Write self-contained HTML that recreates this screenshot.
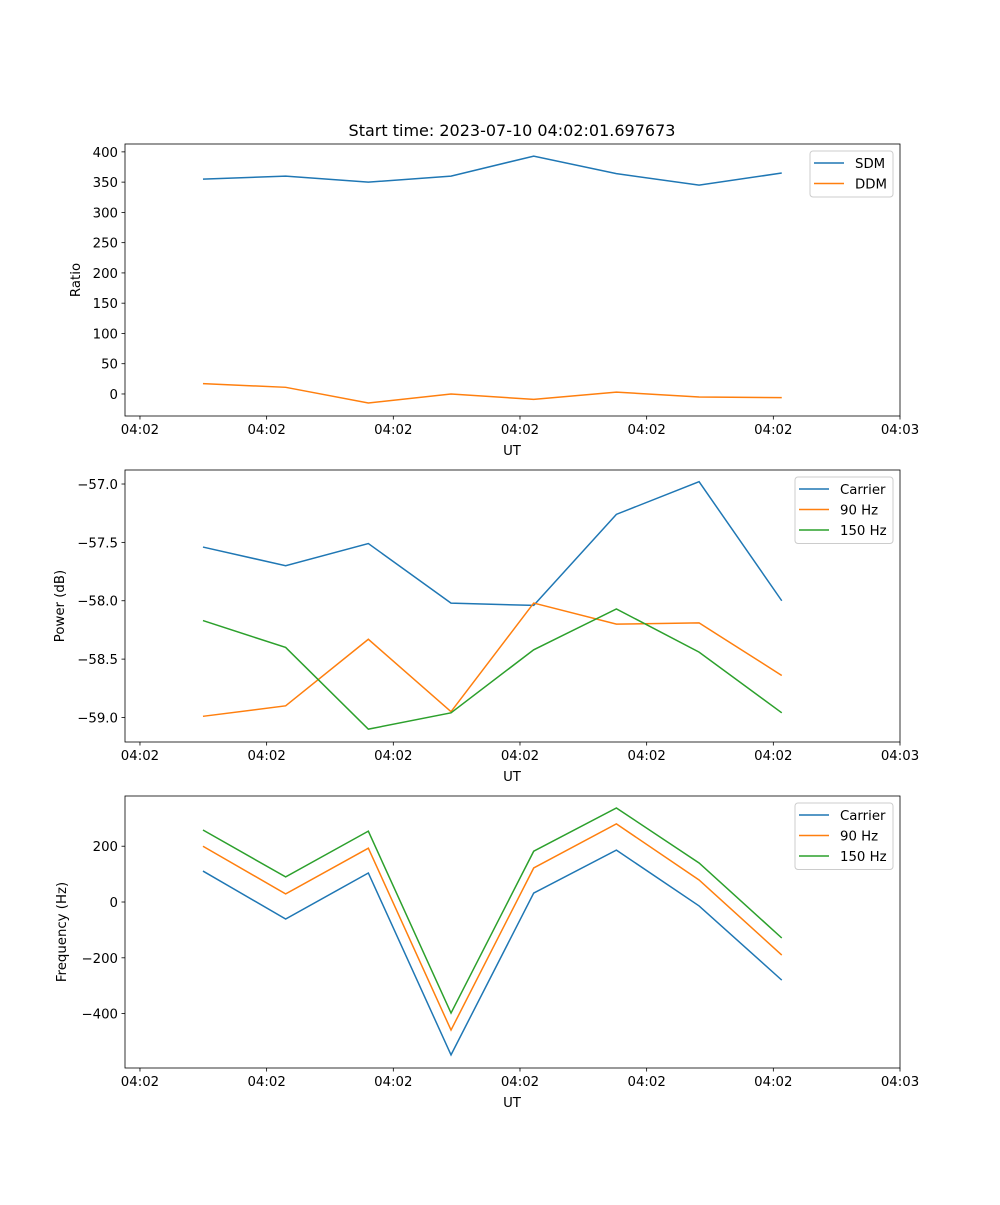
<!DOCTYPE html>
<html><head><meta charset="utf-8"><style>
body{margin:0;background:#fff}
svg text{font-family:"DejaVu Sans","Liberation Sans",sans-serif;font-size:13.3px;fill:#000}
</style></head><body>
<svg id="fig" width="1000" height="1200" xmlns="http://www.w3.org/2000/svg">
<text x="512" y="136" text-anchor="middle" style="font-size:16px">Start time: 2023-07-10 04:02:01.697673</text>
</svg>
<script>
const tickLabels=["04:02","04:02","04:02","04:02","04:02","04:02","04:03"];
const ratioSDM=[355,360,350,360,393,364,345,365];
const ratioDDM=[17,11,-15,0,-9,3,-5,-6];
const powCarrier=[-57.54,-57.70,-57.51,-58.02,-58.04,-57.26,-56.98,-58.00];
const pow90=[-58.99,-58.90,-58.33,-58.95,-58.02,-58.20,-58.19,-58.64];
const pow150=[-58.17,-58.40,-59.10,-58.96,-58.42,-58.07,-58.44,-58.96];
const freqCarrier=[111,-61,104,-548,32,186,-14,-280];
const freq90=[200,29,193,-459,122,280,79,-190];
const freq150=[258,90,254,-398,182,337,140,-129];
const yTicks1=[0,50,100,150,200,250,300,350,400];
const yTicks2=[-59.0,-58.5,-58.0,-57.5,-57.0];
const yTicks3=[-400,-200,0,200];
const C=["#1f77b4","#ff7f0e","#2ca02c"];
const svg=document.getElementById('fig');
const NS="http://www.w3.org/2000/svg";
function mk(t,a,p){const e=document.createElementNS(NS,t);for(const k in a)e.setAttribute(k,a[k]);(p||svg).appendChild(e);return e;}
const L=125,R=900,xmin=-0.943,xmax=8.43;
const xs=v=>L+(v-xmin)/(xmax-xmin)*(R-L);
function panel(top,ymin,ymax,yt,fmt,ylabel,series,names,leg){
  const bot=top+272;
  const ys=v=>bot-(v-ymin)/(ymax-ymin)*272;
  const g=mk('g',{});
  
  
  tickLabels.forEach((t,k)=>{const x=xs(-0.762+k*1.532);
    mk('line',{x1:x,x2:x,y1:bot,y2:bot+3.5,stroke:'#000','stroke-width':0.8},g);
    const tx=mk('text',{x:x,y:bot+18,'text-anchor':'middle'},g);tx.textContent=t;
    
    });
  yt.forEach(v=>{const y=ys(v);
    mk('line',{x1:L-3.5,x2:L,y1:y,y2:y,stroke:'#000','stroke-width':0.8},g);
    const tx=mk('text',{x:L-7,y:y+5,'text-anchor':'end'},g);tx.textContent=fmt(v);
    
    });
  series.forEach((s,i)=>{const p=mk('polyline',{points:s.map((v,j)=>xs(j)+','+ys(v)).join(' '),fill:'none',stroke:C[i],'stroke-width':1.5},g);
    
    });
  mk('rect',{x:L,y:top,width:R-L,height:272,fill:'none',stroke:'#000','stroke-width':0.8},g);
  const xl=mk('text',{x:512,y:bot+39,'text-anchor':'middle'},g);xl.textContent='UT';
  
  
  const yl=mk('text',{x:0,y:0,'text-anchor':'middle',transform:`translate(${leg.yx},${top+136}) rotate(-90)`},g);yl.textContent=ylabel;
  
  
  const lg=mk('g',{},g);
  
  
  mk('rect',{x:leg.x,y:top+7,width:R-7-leg.x,height:names.length*20.5+5,rx:3,fill:'#fff',stroke:'#ccc','stroke-width':1},lg);
  names.forEach((n,i)=>{const y=top+19+i*20.5;
    mk('line',{x1:leg.x+4,x2:leg.x+34,y1:y,y2:y,stroke:C[i],'stroke-width':1.5},lg);
    const t=mk('text',{x:leg.x+45,y:y+5},lg);t.textContent=n;
    
    });
}
const mf=v=>(v<0?'\u2212':'')+Math.abs(v);
panel(144,-36.4,413,yTicks1,mf,'Ratio',[ratioSDM,ratioDDM],['SDM','DDM'],{x:810,yx:80});
panel(470,-59.21,-56.88,yTicks2,v=>'\u2212'+Math.abs(v).toFixed(1),'Power (dB)',[powCarrier,pow90,pow150],['Carrier','90 Hz','150 Hz'],{x:795,yx:64});
panel(796,-595,380,yTicks3,mf,'Frequency (Hz)',[freqCarrier,freq90,freq150],['Carrier','90 Hz','150 Hz'],{x:795,yx:66});
</script>
</body></html>
